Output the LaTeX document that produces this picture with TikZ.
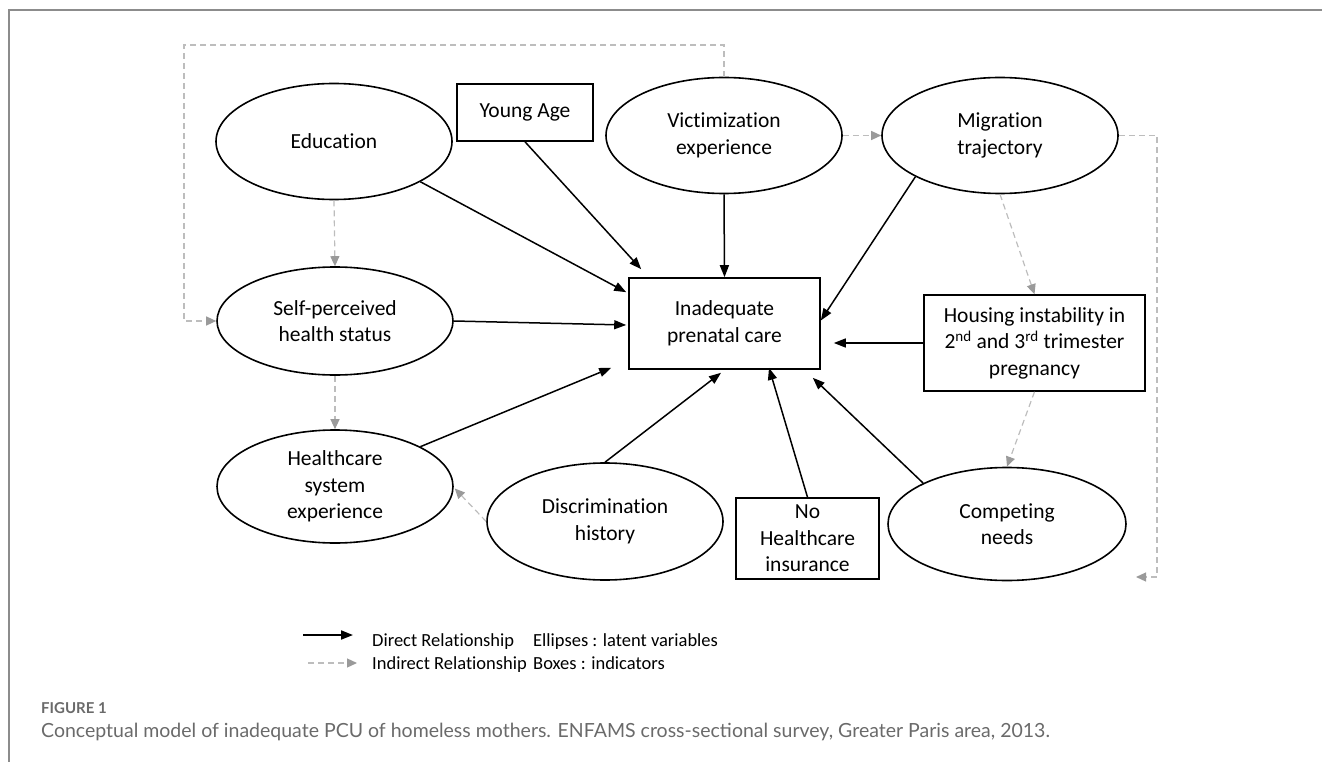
\documentclass[tikz,border=0pt]{standalone}
\usepackage{fontspec}
\setmainfont{Carlito}[Ligatures=NoCommon]
\newfontfamily\capfont{Lato}
\usetikzlibrary{shapes.geometric,arrows.meta,calc}
\definecolor{framegray}{HTML}{8C8C8C}
\definecolor{dashgray}{HTML}{BDBDBD}
\definecolor{tipgray}{HTML}{9A9A9A}
\definecolor{capgray}{HTML}{6A6A6A}
\newcommand\ndfont{\fontsize{21.5}{26.5}\selectfont}
\newcommand\lgfont{\fontsize{18.5}{22}\selectfont}
\begin{document}
\begin{tikzpicture}[x=1pt,y=-1pt,
  lat/.style={ellipse,draw,line width=1.6pt,minimum width=236pt,minimum height=116pt,inner sep=0pt,align=center,font=\ndfont},
  ind/.style={rectangle,draw,line width=1.6pt,inner sep=0pt,align=center,font=\ndfont},
  dir/.style={line width=1.5pt,-{Triangle[length=12pt,width=9pt]}},
  indir/.style={dashgray,line width=1.2pt,dash pattern=on 6pt off 4pt,-{Triangle[length=10pt,width=9pt,color=tipgray]}},
  lgtext/.style={anchor=base west,inner sep=0pt,font=\lgfont}]
\useasboundingbox (0,0) rectangle (1322,762);
% frame
\coordinate (fTR) at (1322,10);
\coordinate (fTL) at (9,10);
\coordinate (fBL) at (9,762);
\draw[framegray,line width=2pt] (fTR) -- (fTL) -- (fBL);
% nodes
\node[lat] (edu) at (334,141.5) {Education};
\node[ind,minimum width=136pt,minimum height=57pt] (ya) at (525,112.5) {Young Age};
\node[lat] (vic) at (724,135.5) {Victimization\\experience};
\node[lat] (mig) at (1000,135.5) {Migration\\trajectory};
\node[lat,minimum height=108pt] (sp) at (335,321) {Self-perceived\\health status};
\node[ind,minimum width=191pt,minimum height=91pt] (ipc) at (724.5,323.5) {Inadequate\\prenatal care};
\node[ind,minimum width=221pt,minimum height=96pt] (hou) at (1034.5,343) {Housing instability in\\2\textsuperscript{nd} and 3\textsuperscript{rd} trimester\\pregnancy};
\node[lat,minimum height=113pt] (hc) at (335,486.5) {Healthcare\\system\\experience};
\node[lat,minimum height=117pt] (dis) at (605,521.5) {Discrimination\\history};
\node[ind,minimum width=143pt,minimum height=81pt] (nhi) at (807.5,538.5) {No\\Healthcare\\insurance};
\node[lat,minimum width=238pt,minimum height=113pt] (cn) at (1007,524) {Competing\\needs};
% direct relationships
\draw[dir] (edu.-25.5) -- ($(ipc.north west)+(-2,15)$);
\draw[dir] (ya.south) -- ($(ipc.north west)+(13,-8)$);
\draw[dir] (vic.south) -- (ipc.north);
\draw[dir] (mig.206.8) -- ($(ipc.east)+(0,-3)$);
\draw[dir] (sp.east) -- ($(ipc.west)+(-2,1.5)$);
\draw[dir] (hou.west) -- ($(ipc.east |- hou.west)+(13,0)$);
\draw[dir] (hc.25.5) -- ($(ipc.south west)+(-17,-2)$);
\draw[dir] (dis.north) -- ($(ipc.south)+(-3.5,3)$);
\draw[dir] (nhi.north) -- ($(ipc.south)+(44.5,-2)$);
\draw[dir] (cn.154.2) -- ($(ipc.south east)+(-8,8)$);
% indirect relationships
\coordinate (tl) at (184,45);
\coordinate (tr) at (1157,135.5);
\coordinate (cnR) at (1136,577);
\draw[indir] (edu.south) -- (sp.north);
\draw[indir] (sp.south) -- (hc.north);
\draw[indir] (dis.west) -- ($(hc.east)+(1,2)$);
\draw[indir] (vic.east) -- (mig.west);
\draw[indir] (vic.north) |- (tl) |- (sp.west);
\draw[indir] (mig.south) -- (hou.north);
\draw[indir] (hou.south) -- (cn.north);
\draw[indir] (mig.east) -- (tr) |- (cnR);
% legend
\coordinate (l1a) at (303,635);
\coordinate (l1b) at (353,635);
\coordinate (l2a) at (308,663);
\coordinate (l2b) at (357,663);
\draw[dir,line width=1.8pt] (l1a) -- (l1b);
\draw[indir] (l2a) -- (l2b);
\node[lgtext] (lg1) at (372,646) {Direct Relationship};
\node[lgtext] (lg2) at (533,646) {Ellipses : latent variables};
\node[lgtext] (lg3) at (372,669) {Indirect Relationship};
\node[lgtext] (lg4) at (533,669) {Boxes : indicators};
% caption
\node[anchor=base west,inner sep=0pt,text=capgray,font=\capfont\bfseries\fontsize{15}{17}\selectfont] (fig) at (41,713) {FIGURE 1};
\node[anchor=base west,inner sep=0pt,text=capgray,font=\capfont\fontsize{19.5}{22}\selectfont] (cap) at (41,737) {Conceptual model of inadequate PCU of homeless mothers. ENFAMS cross-sectional survey, Greater Paris area, 2013.};
\end{tikzpicture}
\end{document}
